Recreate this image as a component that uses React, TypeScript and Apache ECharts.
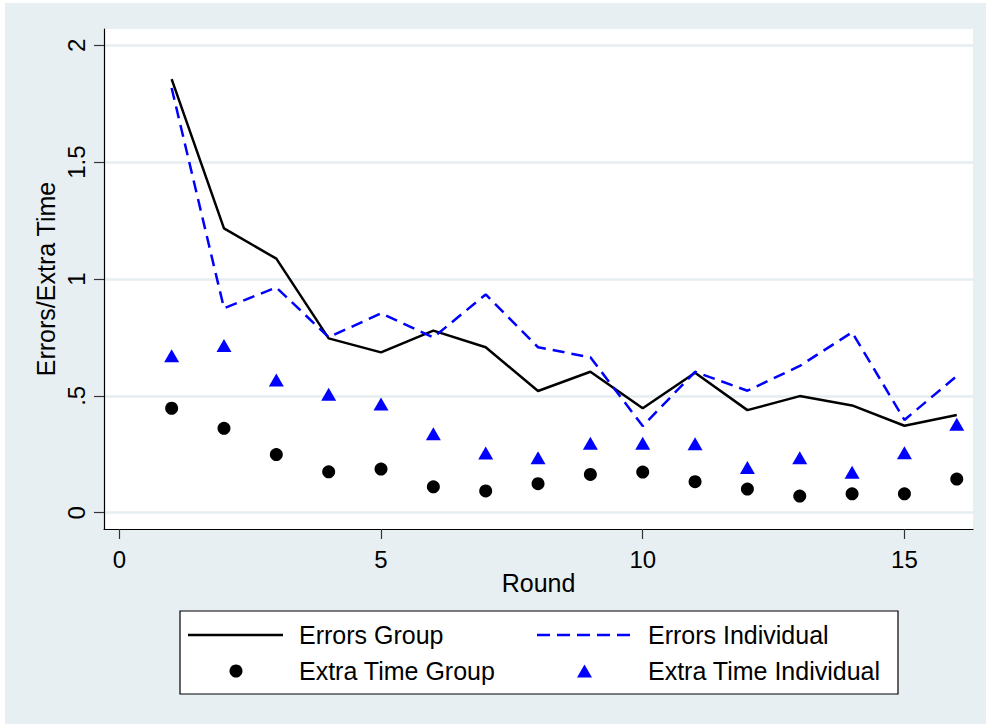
import React, { useEffect, useRef } from "react";
import * as echarts from "echarts";

const rounds = [1, 2, 3, 4, 5, 6, 7, 8, 9, 10, 11, 12, 13, 14, 15, 16];
const errorsGroup = [1.855, 1.217, 1.087, 0.746, 0.686, 0.779, 0.708, 0.521, 0.603, 0.447, 0.599, 0.439, 0.499, 0.459, 0.372, 0.418];
const errorsIndividual = [1.817, 0.875, 0.964, 0.751, 0.853, 0.75, 0.934, 0.708, 0.665, 0.371, 0.603, 0.522, 0.628, 0.772, 0.397, 0.585];
const extraTimeGroup = [0.447, 0.361, 0.249, 0.175, 0.187, 0.111, 0.093, 0.124, 0.164, 0.174, 0.133, 0.101, 0.071, 0.081, 0.081, 0.144];
const extraTimeIndividual = [0.672, 0.715, 0.568, 0.507, 0.465, 0.338, 0.255, 0.235, 0.297, 0.297, 0.295, 0.193, 0.235, 0.173, 0.257, 0.378];

const xTicks = [0, 5, 10, 15];
const yTicks = [0, 0.5, 1, 1.5, 2];
const yTickLabels = ["0", ".5", "1", "1.5", "2"];

const seriesNames = ["Errors Group", "Errors Individual", "Extra Time Group", "Extra Time Individual"];

export default function App() {
  const ref = useRef<HTMLDivElement>(null);
  useEffect(() => {
    if (!ref.current) return;
    const chart = echarts.init(ref.current, null, { renderer: "svg" });
    const font = "'Liberation Sans', Arial, Helvetica, sans-serif";
    const pair = (ys: number[]) => rounds.map((r, i) => [r, ys[i]]);
    const legendText = (text: string, x: number, y: number) => ({
      type: "text",
      z: 10,
      x,
      y,
      style: { text, fontSize: 25, fontFamily: font, fill: "#000", textVerticalAlign: "middle", verticalAlign: "middle", align: "left" },
    });
    const row1 = 632;
    const row2 = 668;
    chart.setOption({
      animation: false,
      backgroundColor: "#e8eff2",
      textStyle: { fontFamily: font },
      grid: {
        left: 99,
        top: 26,
        right: 13,
        bottom: 195,
        show: true,
        backgroundColor: "#ffffff",
        borderWidth: 0,
      },
      xAxis: {
        type: "value",
        min: -0.2923,
        max: 16.31,
        name: "Round",
        nameLocation: "middle",
        nameGap: 41,
        nameMoveOverlap: false,
        nameTextStyle: { fontSize: 25, color: "#000", fontFamily: font },
        axisLine: { show: true, onZero: false, lineStyle: { color: "#000", width: 1.2 } },
        axisTick: { show: true, customValues: xTicks, length: 10, lineStyle: { color: "#333", width: 1.2 } },
        axisLabel: { customValues: xTicks, fontSize: 24, color: "#000", margin: 18, fontFamily: font },
        splitLine: { show: false },
      },
      yAxis: {
        type: "value",
        min: -0.0697,
        max: 2.0698,
        name: "Errors/Extra Time",
        nameLocation: "middle",
        nameGap: 46,
        nameMoveOverlap: false,
        nameTextStyle: { fontSize: 25, color: "#000", fontFamily: font },
        axisLine: { show: true, onZero: false, lineStyle: { color: "#000", width: 1.2 } },
        axisTick: { show: true, customValues: yTicks, length: 10, lineStyle: { color: "#333", width: 1.2 } },
        axisLabel: {
          customValues: yTicks,
          rotate: 90,
          fontSize: 24,
          color: "#000",
          margin: 16,
          fontFamily: font,
          formatter: (v: number) => {
            const idx = yTicks.findIndex((t) => Math.abs(t - v) < 1e-6);
            return idx >= 0 ? yTickLabels[idx] : "";
          },
        },
        splitLine: { show: true, lineStyle: { color: "#e6eef1", width: 2.5 } },
      },
      graphic: [
        {
          type: "rect",
          z: 5,
          shape: { x: 175, y: 608, width: 718, height: 83 },
          style: { fill: "#ffffff", stroke: "#000", lineWidth: 1.2 },
        },
        {
          type: "line",
          z: 10,
          shape: { x1: 183, y1: row1, x2: 278, y2: row1 },
          style: { stroke: "#000", lineWidth: 2.5 },
        },
        {
          type: "line",
          z: 10,
          shape: { x1: 532, y1: row1, x2: 627, y2: row1 },
          style: { stroke: "#0000ff", lineWidth: 2.5, lineDash: [13, 7] },
        },
        {
          type: "circle",
          z: 10,
          shape: { cx: 231, cy: row2, r: 6.5 },
          style: { fill: "#000" },
        },
        {
          type: "polygon",
          z: 10,
          shape: { points: [[572, row2 + 6.5], [587, row2 + 6.5], [579.5, row2 - 6.5]] },
          style: { fill: "#0000ff" },
        },
        legendText(seriesNames[0], 294, row1),
        legendText(seriesNames[1], 643, row1),
        legendText(seriesNames[2], 294, row2),
        legendText(seriesNames[3], 643, row2),
      ],
      series: [
        {
          name: seriesNames[0],
          type: "line",
          data: pair(errorsGroup),
          symbol: "none",
          lineStyle: { color: "#000", width: 2.5 },
          itemStyle: { color: "#000" },
          z: 3,
        },
        {
          name: seriesNames[1],
          type: "line",
          data: pair(errorsIndividual),
          symbol: "none",
          lineStyle: { color: "#0000ff", width: 2.5, type: [12, 7] },
          itemStyle: { color: "#0000ff" },
          z: 3,
        },
        {
          name: seriesNames[2],
          type: "scatter",
          data: pair(extraTimeGroup),
          symbol: "circle",
          symbolSize: 13,
          itemStyle: { color: "#000", opacity: 1 },
          z: 4,
        },
        {
          name: seriesNames[3],
          type: "scatter",
          data: pair(extraTimeIndividual),
          symbol: "triangle",
          symbolSize: [15, 13],
          itemStyle: { color: "#0000ff", opacity: 1 },
          z: 4,
        },
      ],
    });
    return () => chart.dispose();
  }, []);
  return <div ref={ref} style={{ position: "absolute", left: 5, top: 3, width: 981, height: 721 }} />;
}
